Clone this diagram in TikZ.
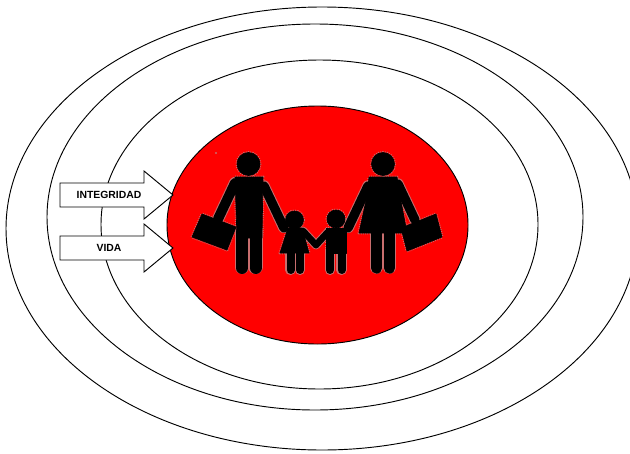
\documentclass[tikz,border=0pt]{standalone}
\usepackage{fontspec}
\setmainfont{Liberation Sans}
\usetikzlibrary{math}
\definecolor{qred}{RGB}{255,0,0}
\definecolor{qhalo}{RGB}{200,110,110}
\tikzset{
 ring/.style={draw=black, line width=0.7pt},
 arrowbox/.style={draw=black, fill=white, line width=0.7pt, line join=miter},
 arrowtext/.style={font=\fontsize{7.8}{9}\selectfont\bfseries, inner sep=0pt},
 %the family is drawn twice: a dotted halo first, the black shapes over it
 halopass/.style={
  figure/.style={draw=qhalo, line width=2.2pt, line join=round, dash pattern=on 0.7pt off 0.9pt},
  limb/.style={draw=qhalo, line cap=round, line width=##1+1.6pt, dash pattern=on 0.7pt off 0.9pt},
 },
 blackpass/.style={
  figure/.style={fill=black, draw=black, line width=0.5pt, line join=round},
  limb/.style={draw=black, line cap=round, line width=##1},
 },
}
\newcommand{\family}{
 %father
 \path[figure] (248.5,164) circle (11.5);
 \path[figure] (235,177) -- (263,177) -- (262,238) -- (237,238) -- cycle;
 \path[limb=7.5pt] (235,183) -- (218,219);
 \path[limb=7pt] (264,186) -- (284,228);
 \path[limb=9pt] (242,232) -- (242,268);
 \path[limb=9pt] (255.5,232) -- (255.5,268);
 \path[figure] (192,237) -- (202,214) -- (236,227) -- (227,250) -- cycle;
 %mother
 \path[figure] (383,164) circle (11.5);
 \path[figure] (369,177) -- (397,177) -- (400,196) -- (407,233) -- (359,233) -- (367,196) -- cycle;
 \path[limb=7pt] (368,186) -- (348,228);
 \path[limb=7pt] (398,184) -- (415,220);
 \path[limb=8.5pt] (376.5,232) -- (376.5,268);
 \path[limb=8.5pt] (389.5,232) -- (389.5,268);
 \path[figure] (401,228) -- (436,214) -- (442,237) -- (407,251) -- cycle;
 %daughter
 \path[figure] (294.5,220) circle (9);
 \path[figure] (288,228) -- (302,228) -- (309,253) -- (280,253) -- cycle;
 \path[limb=5pt] (303,231) -- (316,245);
 \path[limb=6pt] (290.5,250) -- (290.5,270);
 \path[limb=6pt] (300,250) -- (300,270);
 %son
 \path[figure] (336,219) circle (9);
 \path[figure] (326,228) -- (346,228) -- (346,253) -- (326,253) -- cycle;
 \path[limb=5pt] (328,232) -- (316,245);
 \path[limb=6pt] (330,250) -- (330,270);
 \path[limb=6pt] (341.5,250) -- (341.5,270);
}

\begin{document}
\begin{tikzpicture}[x=0.75pt,y=-0.75pt]

\tikzmath{
\xs = 144;%start of the arrow heads
\xt = 173;%arrow tips
\hw = 12;%half width of the shaft
\hh = 24;%half height of the head
}

\clip (0,0) rectangle (630,453);

%rings
\draw[ring] (322,228.5) ellipse (316 and 221.5);
\draw[ring] (315,217) ellipse (268 and 193);
\draw[ring] (319.5,224.5) ellipse (218.5 and 164.5);

%red disc
\draw[ring, fill=qred] (317.5,225) ellipse (150.5 and 119);
\fill[qhalo] (216,153) circle (1.2);

%arrows
\foreach \y/\t/\n in {195/INTEGRIDAD/integridad,248/VIDA/vida}{
 \draw[arrowbox] (60,\y-\hw) -- (\xs,\y-\hw) -- (\xs,\y-\hh) -- (\xt,\y)
  -- (\xs,\y+\hh) -- (\xs,\y+\hw) -- (60,\y+\hw) -- cycle;
 \node[arrowtext] (\n) at (109,\y) {\t};
}

\begin{scope}[halopass]
\family
\end{scope}
\begin{scope}[blackpass]
\family
\end{scope}

\end{tikzpicture}
\end{document}
